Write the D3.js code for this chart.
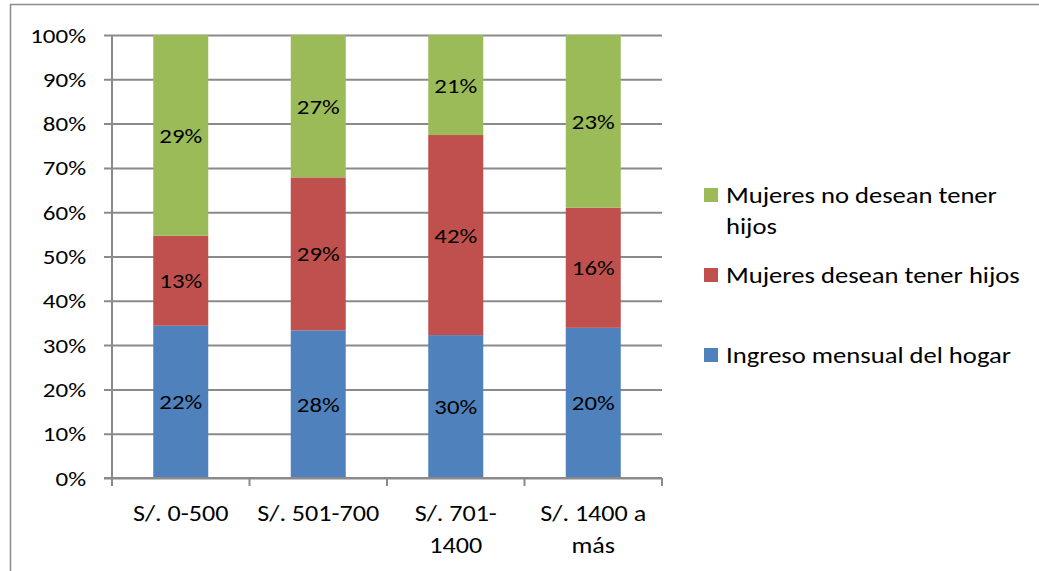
<!DOCTYPE html>
<html><head><meta charset="utf-8">
<script src="https://cdn.jsdelivr.net/npm/d3@7"></script>
<style>
body{margin:0;background:#fff}
svg{display:block}
text{font-family:Carlito,Lato,"Open Sans",sans-serif;fill:#000}
</style>
</head><body>
<svg id="chart" width="1039" height="571"></svg>
<script>
// ---- data ----
const categories = ["S/. 0-500", "S/. 501-700", "S/. 701-1400", "S/. 1400 a más"];
const categoryLines = [["S/. 0-500"], ["S/. 501-700"], ["S/. 701-", "1400"], ["S/. 1400 a", "más"]];
const seriesNames = ["Ingreso mensual del hogar", "Mujeres desean tener hijos", "Mujeres no desean tener hijos"];
const seriesLines = [["Ingreso mensual del hogar"], ["Mujeres desean tener hijos"], ["Mujeres no desean tener", "hijos"]];
const ingreso = [22, 28, 30, 20];
const desean = [13, 29, 42, 16];
const noDesean = [29, 27, 21, 23];
const yTicks = [0, 0.1, 0.2, 0.3, 0.4, 0.5, 0.6, 0.7, 0.8, 0.9, 1];
const colors = ["#4F81BD", "#C0504D", "#9BBB59"];

const seriesValues = [ingreso, desean, noDesean];
const rows = categories.map((c, i) => {
  const r = {category: c};
  seriesNames.forEach((s, k) => r[s] = seriesValues[k][i]);
  return r;
});

const svg = d3.select("#chart");
const W = 1039, H = 571;
const plot = {left: 112, right: 662, top: 35, bottom: 478};
const gridColor = "#8a8a8a";

// outer frame (top and left edges visible)
svg.append("line").attr("x1", 10).attr("x2", W).attr("y1", 4.5).attr("y2", 4.5)
  .attr("stroke", "#8c8c8c").attr("stroke-width", 1.5);
svg.append("line").attr("x1", 10.5).attr("x2", 10.5).attr("y1", 4).attr("y2", H)
  .attr("stroke", "#8c8c8c").attr("stroke-width", 1.5);

const x = d3.scaleBand().domain(categories).range([plot.left, plot.right]).paddingInner(0.6).paddingOuter(0.3);
const xb = d3.scaleBand().domain(categories).range([plot.left, plot.right]);
const y = d3.scaleLinear().domain([0, 1]).range([plot.bottom, plot.top]);

// gridlines + y axis
const yAxis = d3.axisLeft(y).tickValues(yTicks).tickSize(-(plot.right - plot.left)).tickFormat(d3.format(".0%"));
const gy = svg.append("g").attr("transform", `translate(${plot.left},0)`).call(yAxis);
gy.select(".domain").remove();
gy.selectAll(".tick line").attr("stroke", gridColor).attr("stroke-width", 2).attr("x1", -8);
gy.selectAll(".tick text").attr("x", 0).attr("dy", "0.35em")
  .attr("transform", `translate(-26,0) scale(1.25,1)`)
  .style("font-size", "20px").attr("fill", "#000");

svg.append("line").attr("x1", plot.left).attr("x2", plot.left).attr("y1", plot.top).attr("y2", plot.bottom)
  .attr("stroke", gridColor).attr("stroke-width", 2);

// bars
const stack = d3.stack().keys(seriesNames).offset(d3.stackOffsetExpand);
const stacked = stack(rows);
const layers = svg.append("g").selectAll("g").data(stacked).join("g")
  .attr("fill", (d, i) => colors[i]);
layers.selectAll("rect").data(d => d.map(p => ({p, key: d.key}))).join("rect")
  .attr("x", d => x(d.p.data.category))
  .attr("width", x.bandwidth())
  .attr("y", d => y(d.p[1]))
  .attr("height", d => y(d.p[0]) - y(d.p[1]));

// value labels
layers.selectAll("text").data(d => d.map(p => ({p, key: d.key}))).join("text")
  .attr("transform", d => `translate(${x(d.p.data.category) + x.bandwidth() / 2},${(y(d.p[0]) + y(d.p[1])) / 2}) scale(1.18,1)`)
  .attr("dy", "0.36em")
  .attr("text-anchor", "middle")
  .style("font-size", "21px")
  .text(d => d.p.data[d.key] + "%");

// x axis
const gx = svg.append("g").attr("transform", `translate(0,${plot.bottom})`);
gx.append("line").attr("x1", plot.left - 8).attr("x2", plot.right).attr("stroke", gridColor).attr("stroke-width", 2);
const bounds = categories.map(c => xb(c)).concat([plot.right]);
gx.selectAll("line.tk").data(bounds).join("line").attr("class", "tk")
  .attr("x1", d => d).attr("x2", d => d).attr("y1", 0).attr("y2", 8)
  .attr("stroke", gridColor).attr("stroke-width", 2);
const xl = gx.selectAll("text").data(categories).join("text")
  .attr("text-anchor", "middle")
  .attr("transform", d => `translate(${xb(d) + xb.bandwidth() / 2},0) scale(1.16,1)`)
  .style("font-size", "22.5px");
xl.selectAll("tspan").data((d, i) => categoryLines[i]).join("tspan")
  .attr("x", 0).attr("y", (d, j) => 43 + j * 32).text(d => d);

// legend
const legendOrder = seriesNames.slice().reverse();
const ly = d3.scalePoint().domain(legendOrder).range([195, 355]);
const lg = svg.append("g").selectAll("g").data(legendOrder).join("g")
  .attr("transform", d => `translate(704,${ly(d)})`);
lg.append("rect").attr("x", 0).attr("y", -7).attr("width", 14).attr("height", 14)
  .attr("fill", d => colors[seriesNames.indexOf(d)]);
const lt = lg.append("text").attr("transform", `translate(22,0) scale(1.21,1)`).style("font-size", "22px");
lt.selectAll("tspan").data(d => seriesLines[seriesNames.indexOf(d)]).join("tspan")
  .attr("x", 0).attr("y", (d, j) => 8 + j * 31).text(d => d);
</script>
</body></html>
